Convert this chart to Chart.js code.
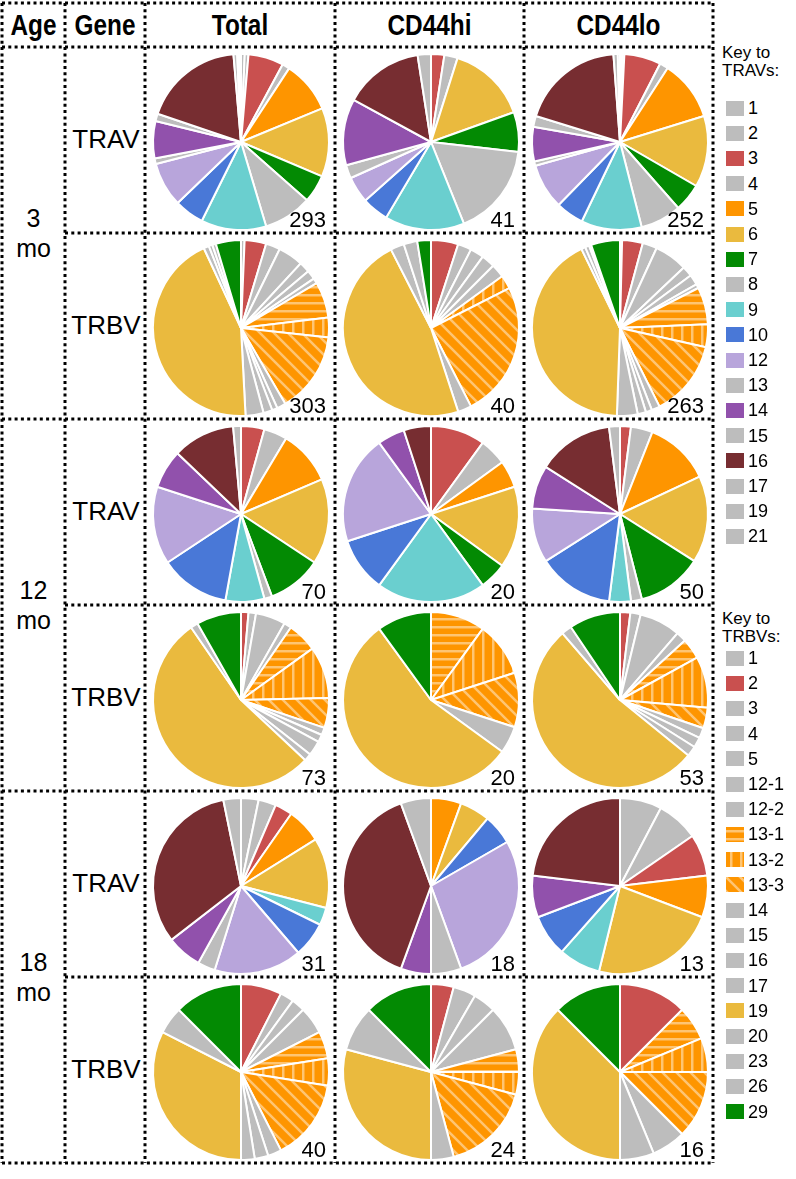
<!DOCTYPE html>
<html>
<head>
<meta charset="utf-8">
<script src="https://cdn.jsdelivr.net/npm/chart.js@4.4.1/dist/chart.umd.min.js"></script>
<style>
    body { margin: 0; background: #fff; }
    #fig { position: relative; width: 796px; height: 1179px; overflow: hidden; background: #fff;
           font-family: "Liberation Sans", Arial, Helvetica, sans-serif; color: #000; }
    #fig canvas, #fig div { position: absolute; }
    .hdr { font-weight: bold; font-size: 29px; line-height: 44px; text-align: center; top: 3px;
           transform: scaleX(0.84); transform-origin: center; }
    .gene { font-size: 26px; line-height: 30px; text-align: center; }
    .age { font-size: 25px; line-height: 30px; text-align: center; }
    .count { font-size: 22px; line-height: 22px; text-align: right; width: 60px; }
    .key { font-size: 17px; line-height: 18px; }
    .item { font-size: 18px; line-height: 20px; }
</style>
</head>
<body>
<div id="fig"></div>
<script>
// V gene categories (legend order = order round each pie, clockwise from 12 o'clock)
const travLabels = ['1', '2', '3', '4', '5', '6', '7', '8', '9', '10', '12', '13', '14', '15', '16', '17', '19', '21'];
const trbvLabels = ['1', '2', '3', '4', '5', '12-1', '12-2', '13-1', '13-2', '13-3', '14', '15', '16', '17', '19', '20', '23', '26', '29'];
const ageLabels = ['3', '12', '18'];
const groupLabels = ['Total', 'CD44hi', 'CD44lo'];

// sequence counts per TRAV
const trav3Total = [2, 2, 19, 4, 28, 37, 15, 26, 35, 16, 24, 3, 20, 4, 54, 2, 1, 1];
const trav3Hi    = [0, 0, 1, 1, 0, 6, 3, 7, 6, 2, 2, 1, 5, 0, 6, 1, 0, 0];
const trav3Lo    = [1, 1, 17, 4, 28, 33, 13, 19, 28, 13, 21, 2, 16, 5, 48, 2, 1, 0];
const trav12Total = [0, 0, 3, 3, 7, 11, 7, 1, 5, 9, 10, 0, 5, 0, 8, 1, 0, 0];
const trav12Hi    = [0, 0, 2, 1, 1, 3, 1, 0, 4, 2, 4, 0, 1, 0, 1, 0, 0, 0];
const trav12Lo    = [0, 0, 1, 2, 6, 8, 6, 1, 2, 7, 5, 0, 4, 0, 7, 1, 0, 0];
const trav18Total = [1, 1, 1, 0, 2, 4, 0, 0, 1, 2, 5, 1, 2, 0, 10, 1, 0, 0];
const trav18Hi    = [0, 0, 0, 0, 1, 1, 0, 0, 0, 1, 5, 1, 1, 0, 7, 1, 0, 0];
const trav18Lo    = [1, 1, 1, 0, 1, 3, 0, 0, 1, 1, 0, 0, 1, 0, 3, 0, 0, 0];

// sequence counts per TRBV
const trbv3Total = [2, 12, 8, 14, 6, 5, 3, 20, 11, 45, 5, 3, 5, 10, 133, 3, 2, 2, 14];
const trbv3Hi    = [0, 2, 1, 1, 1, 1, 0, 0, 1, 10, 0, 0, 0, 1, 19, 1, 0, 1, 1];
const trbv3Lo    = [1, 10, 7, 16, 5, 5, 2, 18, 11, 37, 4, 3, 4, 10, 111, 2, 2, 1, 14];
const trbv12Total = [0, 1, 1, 4, 1, 0, 0, 4, 7, 4, 1, 1, 2, 1, 39, 1, 0, 0, 6];
const trbv12Hi    = [0, 0, 0, 0, 0, 0, 0, 2, 2, 2, 1, 0, 0, 0, 11, 0, 0, 0, 2];
const trbv12Lo    = [0, 1, 1, 4, 1, 0, 0, 2, 5, 2, 1, 0, 1, 1, 28, 1, 0, 0, 5];
const trbv18Total = [0, 3, 1, 1, 2, 0, 0, 2, 2, 6, 1, 0, 1, 1, 13, 2, 0, 0, 5];
const trbv18Hi    = [0, 1, 1, 1, 2, 0, 0, 1, 1, 4, 0, 0, 0, 1, 7, 2, 0, 0, 3];
const trbv18Lo    = [0, 2, 0, 0, 0, 0, 0, 1, 1, 2, 1, 0, 0, 1, 6, 0, 0, 0, 2];

// colours
const GREY = '#bdbdbd', RED = '#c9504f', ORANGE = '#fe9500', YELLOW = '#eaba3e', GREEN = '#038a03',
      CYAN = '#6acfcf', BLUE = '#4978d7', LAVENDER = '#b8a5db', PURPLE = '#9151ac', MAROON = '#772d31';
const STRIPE = 'rgba(255, 255, 255, 0.45)';

function makePattern(kind) {
    const s = kind === 'h' ? 8 : (kind === 'v' ? 10 : 14);
    const c = document.createElement('canvas');
    c.width = s; c.height = s;
    const g = c.getContext('2d');
    g.fillStyle = ORANGE;
    g.fillRect(0, 0, s, s);
    g.fillStyle = STRIPE;
    g.strokeStyle = STRIPE;
    if (kind === 'h') {
        g.fillRect(0, 3, s, 2.5);
    } else if (kind === 'v') {
        g.fillRect(4, 0, 2.5, s);
    } else {
        g.lineWidth = 2.5;
        g.beginPath();
        g.moveTo(-s, 0); g.lineTo(s, 2 * s);
        g.moveTo(0, -s); g.lineTo(2 * s, s);
        g.moveTo(-1, -1); g.lineTo(s + 1, s + 1);
        g.stroke();
    }
    return g.createPattern(c, 'repeat');
}

const hatch = { h: makePattern('h'), v: makePattern('v'), d: makePattern('d') };

const travColors = [GREY, GREY, RED, GREY, ORANGE, YELLOW, GREEN, GREY, CYAN, BLUE,
                    LAVENDER, GREY, PURPLE, GREY, MAROON, GREY, GREY, GREY];
const trbvColors = [GREY, RED, GREY, GREY, GREY, GREY, GREY, hatch.h, hatch.v, hatch.d,
                    GREY, GREY, GREY, GREY, YELLOW, GREY, GREY, GREY, GREEN];

// table rows: one per age x gene
const rows = [
    { gene: 'TRAV', labels: travLabels, colors: travColors, sets: [trav3Total, trav3Hi, trav3Lo] },
    { gene: 'TRBV', labels: trbvLabels, colors: trbvColors, sets: [trbv3Total, trbv3Hi, trbv3Lo] },
    { gene: 'TRAV', labels: travLabels, colors: travColors, sets: [trav12Total, trav12Hi, trav12Lo] },
    { gene: 'TRBV', labels: trbvLabels, colors: trbvColors, sets: [trbv12Total, trbv12Hi, trbv12Lo] },
    { gene: 'TRAV', labels: travLabels, colors: travColors, sets: [trav18Total, trav18Hi, trav18Lo] },
    { gene: 'TRBV', labels: trbvLabels, colors: trbvColors, sets: [trbv18Total, trbv18Hi, trbv18Lo] }
];

// layout
const colX = [2, 65, 145, 335, 524, 713];
const rowY = [3, 47, 233, 419, 605, 791, 977, 1163];
const fig = document.getElementById('fig');

function addDiv(text, cls, css) {
    const d = document.createElement('div');
    d.className = cls;
    d.textContent = text;
    Object.assign(d.style, css);
    fig.appendChild(d);
    return d;
}

// pies
rows.forEach(function (row, r) {
    const top = rowY[r + 1], bottom = rowY[r + 2];
    const cy = (top + bottom) / 2 + 2;
    row.sets.forEach(function (values, g) {
        const left = colX[g + 2], right = colX[g + 3];
        const cx = (left + right) / 2 + 1;
        const cv = document.createElement('canvas');
        cv.width = 186; cv.height = 186;
        cv.style.left = (cx - 93) + 'px';
        cv.style.top = (cy - 93) + 'px';
        fig.appendChild(cv);
        new Chart(cv, {
            type: 'pie',
            data: {
                labels: row.labels,
                datasets: [{
                    data: values,
                    backgroundColor: row.colors,
                    borderColor: '#fff',
                    borderWidth: 2,
                    hoverOffset: 0,
                    radius: 88
                }]
            },
            options: {
                responsive: false,
                animation: false,
                events: [],
                plugins: { legend: { display: false }, tooltip: { enabled: false } }
            }
        });
        const n = values.reduce(function (a, b) { return a + b; }, 0);
        addDiv(String(n), 'count', { left: (right - 9 - 60) + 'px', top: (bottom - 24) + 'px' });
    });
    addDiv(row.gene, 'gene', { left: (colX[1] + 1) + 'px', width: (colX[2] - colX[1]) + 'px', top: ((top + bottom) / 2 - 16) + 'px' });
});

// age labels, centred on the TRAV/TRBV boundary
ageLabels.forEach(function (a, i) {
    const mid = rowY[2 + 2 * i];
    addDiv(a, 'age', { left: colX[0] + 'px', width: (colX[1] - colX[0]) + 'px', top: (mid - 30) + 'px' });
    addDiv('mo', 'age', { left: colX[0] + 'px', width: (colX[1] - colX[0]) + 'px', top: (mid) + 'px' });
});

// header
['Age', 'Gene'].concat(groupLabels).forEach(function (h, i) {
    addDiv(h, 'hdr', { left: colX[i] + 'px', width: (colX[i + 1] - colX[i]) + 'px' });
});

// keys
function addKey(title1, title2, labels, colors, titleTop, firstY) {
    addDiv(title1, 'key', { left: '722px', top: titleTop + 'px' });
    addDiv(title2, 'key', { left: '722px', top: (titleTop + 18) + 'px' });
    labels.forEach(function (lab, i) {
        const y = firstY + i * 25.2;
        const sw = document.createElement('canvas');
        sw.width = 18; sw.height = 15;
        sw.style.left = '726px';
        sw.style.top = (y - 7.5) + 'px';
        const g = sw.getContext('2d');
        g.fillStyle = colors[i];
        g.fillRect(0, 0, 18, 15);
        fig.appendChild(sw);
        addDiv(lab, 'item', { left: '748px', top: (y - 10) + 'px' });
    });
}
addKey('Key to', 'TRAVs:', travLabels, travColors, 44, 108);
addKey('Key to', 'TRBVs:', trbvLabels, trbvColors, 610, 658);

// dotted table rules drawn on top
const grid = document.createElement('canvas');
grid.width = 796; grid.height = 1179;
grid.style.left = '0px'; grid.style.top = '0px';
fig.appendChild(grid);
const gc = grid.getContext('2d');
gc.strokeStyle = '#000';
gc.lineWidth = 3;
gc.setLineDash([3, 3.3]);
function rule(x1, y1, x2, y2) {
    gc.beginPath();
    gc.moveTo(x1, y1);
    gc.lineTo(x2, y2);
    gc.stroke();
}
[3, 47, 419, 791, 1163].forEach(function (y) { rule(colX[0], y, colX[5], y); });
[233, 605, 977].forEach(function (y) { rule(colX[1], y, colX[5], y); });
colX.forEach(function (x) { rule(x, rowY[0], x, rowY[7]); });
</script>
</body>
</html>
